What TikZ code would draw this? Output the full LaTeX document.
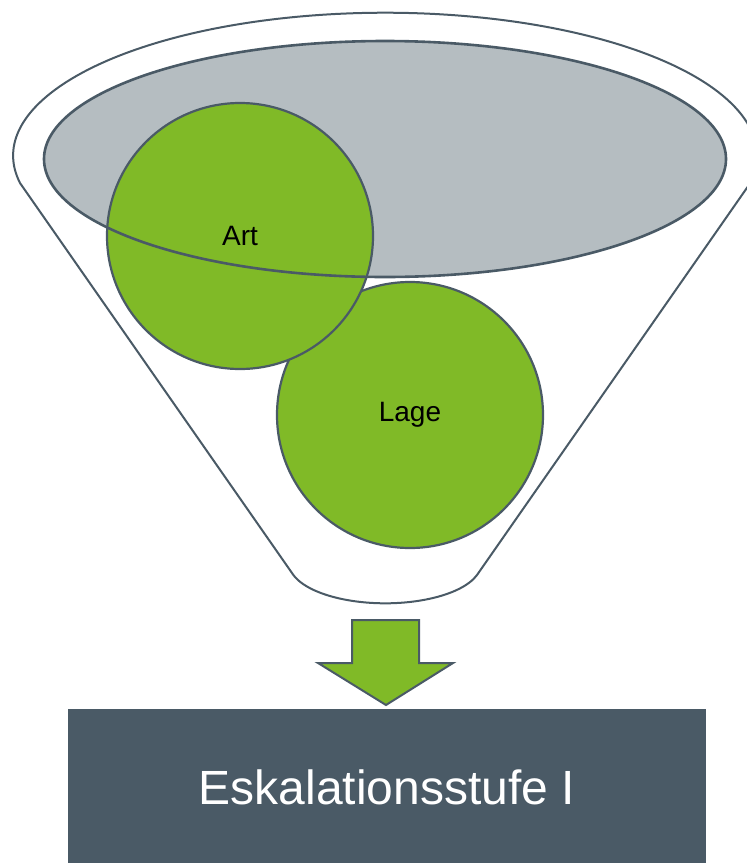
\documentclass[tikz,border=0pt]{standalone}
\usepackage{fontspec}
\setmainfont{Liberation Sans}
\usetikzlibrary{positioning}
\definecolor{slate}{HTML}{4A5A66}
\definecolor{leaf}{HTML}{80BA27}
\definecolor{mist}{HTML}{B5BDC1}

\begin{document}
\begin{tikzpicture}[x=1pt, y=-1pt, line width=2.2pt,
  ball/.style={circle, draw=slate, fill=leaf, minimum size=266pt, inner sep=0pt, font=\fontsize{28}{32}\selectfont},
  stage/.style={rectangle, fill=slate, text=white, minimum width=638pt, minimum height=156pt, font=\fontsize{48}{56}\selectfont}]

\useasboundingbox (0,0) rectangle (747,863);

% Funnel
\draw[slate, line width=2pt] (20,183) arc[start angle=169, end angle=371, x radius=372, y radius=143]
  -- (477,575) arc[start angle=17, end angle=163, x radius=96, y radius=40] -- cycle;

% Opening
\fill[mist] (385,159) ellipse [x radius=341, y radius=118];

% Balls
\node[ball] (lage) at (410,415) {Lage};
\node[ball] (art) at (240,236) {Art};

\draw[slate, line width=2.6pt] (385,159) ellipse [x radius=341, y radius=118];

% Arrow down
\draw[slate, fill=leaf, line width=2pt] (352,620) -- (419,620) -- (419,663) -- (453,663) -- (386,705) -- (318,663) -- (352,663) -- cycle;

% Stage
\node[stage] (stufe) at (387,787) {Eskalationsstufe I};

\end{tikzpicture}
\end{document}
